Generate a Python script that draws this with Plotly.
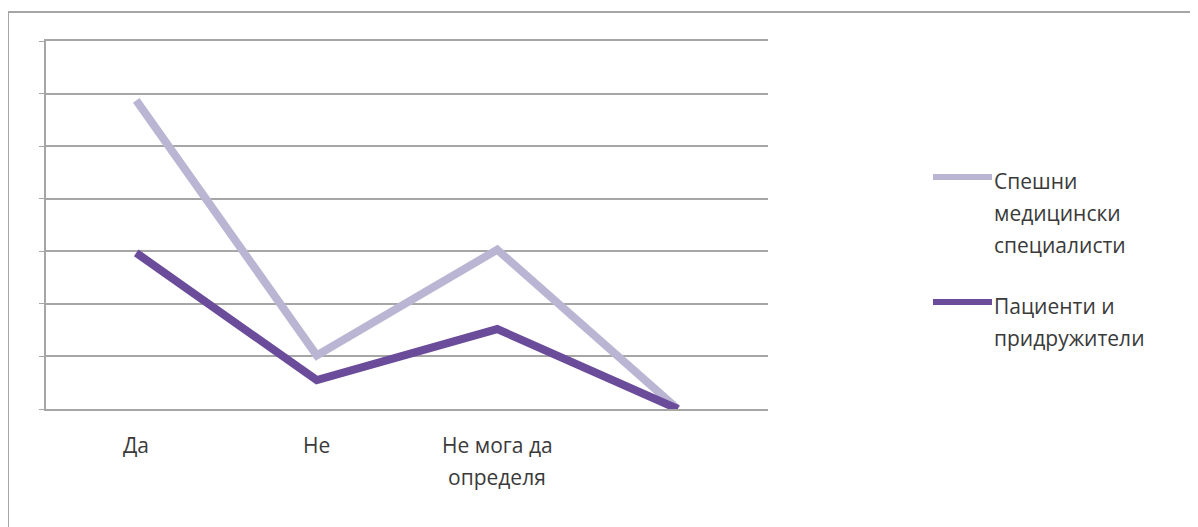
import plotly.graph_objects as go

categories = ["Да", "Не", "Не мога да<br>определя", ""]
series_names = ["Спешни<br>медицински<br>специалисти", "Пациенти и<br>придружители"]
emergency_staff = [5.87, 1.02, 3.03, 0.0]
patients = [2.97, 0.55, 1.52, 0.0]
colors = ["#bab5d2", "#6b4c9a"]

FONT = "Open Sans"
FS = 21
TXT = "#3a3a3a"

OFF = 8  # default page margin of the browser
W, H = 1198 - OFF, 527 - OFF
L, R, T, B = 46 - OFF, 1198 - 768, 41 - OFF, 527 - 409
pw, ph = W - L - R, H - T - B

def px(xs_):
    return (xs_ - OFF - L) / pw

def py(ys_):
    return (H - B - (ys_ - OFF)) / ph

xs = list(range(len(categories)))
fig = go.Figure()
for name, vals, col in zip(series_names, [emergency_staff, patients], colors):
    fig.add_trace(go.Scatter(x=xs, y=vals, mode="lines", name=name,
                             line=dict(color=col, width=8), showlegend=False))

annotations = []
for i, c in enumerate(categories):
    for j, part in enumerate(c.split("<br>")):
        if not part:
            continue
        annotations.append(dict(x=i, xref="x", y=py(445 + 32 * j), yref="paper",
                                text=part, showarrow=False, xanchor="center", yanchor="middle",
                                font=dict(family=FONT, size=FS, color=TXT)))

shapes = []
leg_y = [177, 302]
for k, (name, col) in enumerate(zip(series_names, colors)):
    shapes.append(dict(type="line", xref="paper", yref="paper",
                       x0=px(933), x1=px(992), y0=py(leg_y[k]), y1=py(leg_y[k]),
                       line=dict(color=col, width=6)))
    for j, part in enumerate(name.split("<br>")):
        annotations.append(dict(x=px(992), xref="paper", y=py(leg_y[k] + 4 + 32 * j), yref="paper",
                                text=part, showarrow=False, xanchor="left", yanchor="middle",
                                font=dict(family=FONT, size=FS, color=TXT)))

shapes.append(dict(type="rect", xref="paper", yref="paper", layer="below",
                   x0=px(8), x1=px(1196), y0=py(560), y1=py(12),
                   line=dict(color="#a6a6a6", width=2)))

fig.update_layout(
    width=W, height=H,
    margin=dict(l=L, r=R, t=T, b=B),
    paper_bgcolor="white", plot_bgcolor="white",
    showlegend=False,
    shapes=shapes, annotations=annotations,
    xaxis=dict(range=[-0.5, 3.5], tickvals=xs, showticklabels=False,
               showgrid=False, zeroline=False, showline=True, mirror=True,
               linecolor="#a6a6a6", linewidth=1.5, ticks=""),
    yaxis=dict(range=[0, 7], dtick=1, showticklabels=False,
               showgrid=True, gridcolor="#a6a6a6", gridwidth=1.5,
               zeroline=True, zerolinecolor="#a6a6a6", zerolinewidth=1.5,
               showline=True, linecolor="#a6a6a6", linewidth=1.5,
               ticks="outside", ticklen=5, tickcolor="#a6a6a6"),
)

fig.write_html("out.html")
